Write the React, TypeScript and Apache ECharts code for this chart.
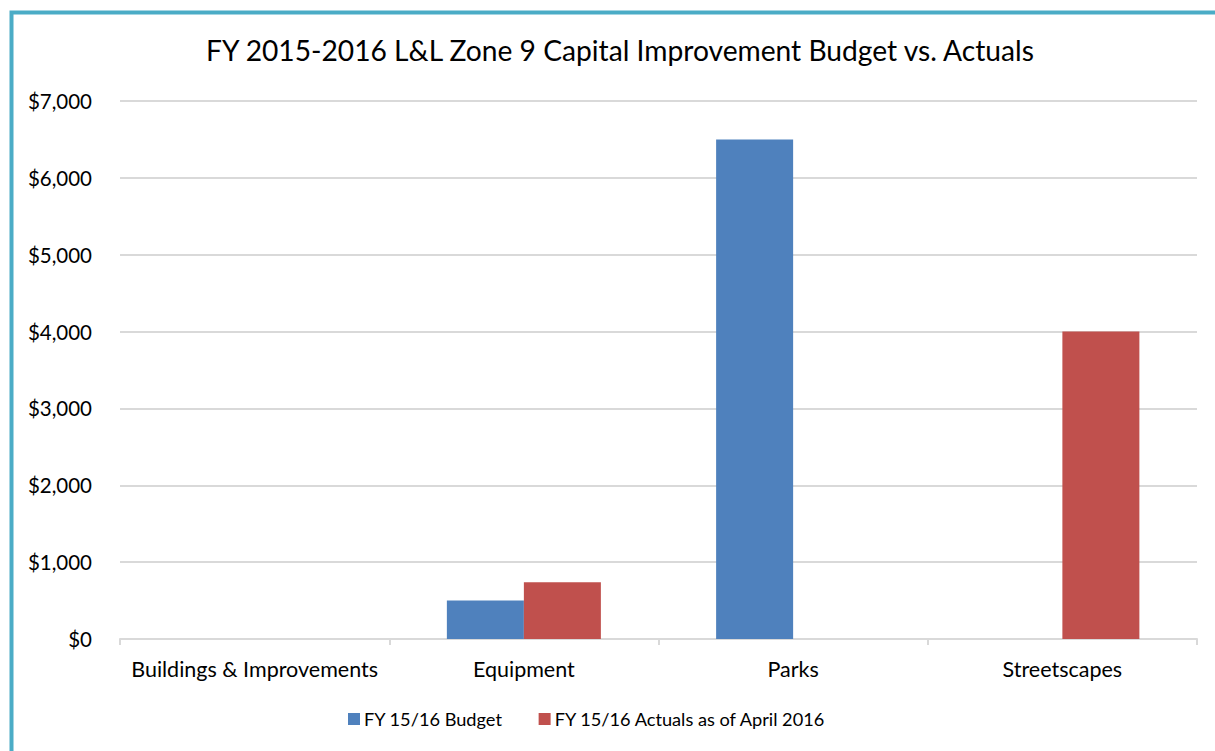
import React, { useEffect, useRef } from "react";
import * as echarts from "echarts";

const categories = ["Buildings & Improvements", "Equipment", "Parks", "Streetscapes"];
const budget = [0, 500, 6500, 0];
const actuals = [0, 740, 0, 4000];
const seriesNames = ["FY 15/16 Budget", "FY 15/16 Actuals as of April 2016"];
const titleText = "FY 2015-2016 L&L Zone 9 Capital Improvement Budget vs. Actuals";

const FONT = "Lato, 'Open Sans', sans-serif";

export default function App() {
  const ref = useRef<HTMLDivElement>(null);
  useEffect(() => {
    if (!ref.current) return;
    const chart = echarts.init(ref.current, null, { renderer: "svg" });
    chart.setOption({
      animation: false,
      backgroundColor: "#ffffff",
      textStyle: { fontFamily: FONT },
      title: {
        text: titleText,
        left: 201,
        top: 31,
        textStyle: { fontFamily: FONT, fontSize: 28.2, fontWeight: "normal", color: "#000" },
      },
      graphic: [
        {
          type: "rect",
          shape: { x: 11.5, y: 12.5, width: 1400, height: 900 },
          style: { fill: "none", stroke: "#4BACC6", lineWidth: 4 },
          silent: true,
        },
      ],
      legend: {
        bottom: 23,
        left: 348,
        padding: 0,
        itemWidth: 12,
        itemHeight: 12,
        itemGap: 36,
        icon: "rect",
        textStyle: { fontFamily: FONT, fontSize: 18.2, color: "#000", padding: [0, 0, 0, -1] },
        data: seriesNames,
      },
      grid: { left: 120, right: 18, top: 101, bottom: 112 },
      xAxis: {
        type: "category",
        data: categories,
        axisLine: { lineStyle: { color: "#D9D9D9", width: 2 } },
        axisTick: { show: true, length: 6, lineStyle: { color: "#D9D9D9", width: 2 } },
        axisLabel: { fontFamily: FONT, fontSize: 21.5, color: "#000", margin: 19, interval: 0 },
      },
      yAxis: {
        type: "value",
        min: 0,
        max: 7000,
        interval: 1000,
        axisLine: { show: false },
        axisTick: { show: false },
        splitLine: { lineStyle: { color: "#D9D9D9", width: 2 } },
        axisLabel: {
          fontFamily: FONT,
          fontSize: 20.5,
          color: "#000",
          margin: 28,
          formatter: (v: number) => "$" + v.toLocaleString("en-US"),
        },
      },
      series: [
        {
          name: seriesNames[0],
          type: "bar",
          data: budget,
          itemStyle: { color: "#4F81BD" },
          barWidth: "28.6%",
          barGap: "0%",
        },
        {
          name: seriesNames[1],
          type: "bar",
          data: actuals,
          itemStyle: { color: "#C0504D" },
          barWidth: "28.6%",
          barGap: "0%",
        },
      ],
    });
    return () => chart.dispose();
  }, []);
  return (
    <div
      ref={ref}
      style={{ position: "fixed", left: 0, top: 0, width: 1215, height: 751 }}
    />
  );
}
